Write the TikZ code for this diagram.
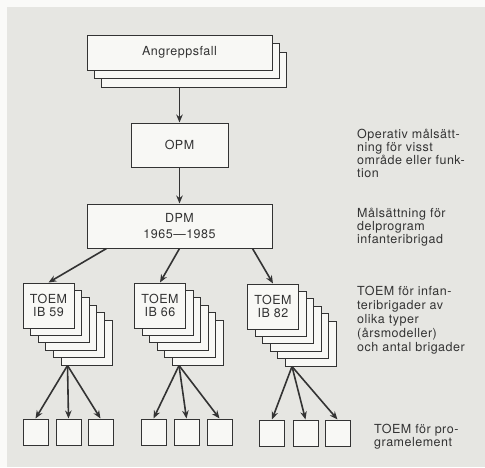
\documentclass[tikz,border=0pt]{standalone}
\usepackage{fontspec}
\setmainfont{TeX Gyre Heros}[LetterSpace=4]
\usetikzlibrary{arrows.meta}
\definecolor{panel}{HTML}{E6E6E2}
\definecolor{paper}{HTML}{FAFAF8}
\definecolor{ink}{HTML}{333333}
\definecolor{boxfill}{HTML}{F8F8F5}

\begin{document}
\begin{tikzpicture}[x=1pt,y=-1pt,
  every node/.style={font=\fontsize{12.5}{13.3}\selectfont, text=ink},
  frame/.style={draw=ink, fill=boxfill, line width=1pt, inner sep=0pt},
  sheet/.style={frame, minimum width=51pt, minimum height=45pt},
  leaf/.style={frame, minimum width=25pt, minimum height=26pt},
  link/.style={draw=ink, line width=1.6pt, -{Stealth[length=8pt,width=6.5pt]}},
  note/.style={anchor=north west, align=left, inner sep=0pt}]

% paper and grey panel
\fill[paper] (0,0) rectangle (485,467);
\fill[panel] (7,7) rectangle (485,467);
\useasboundingbox (0,0) rectangle (485,467);

% Angreppsfall: three stacked sheets
\node[frame, minimum width=185pt, minimum height=35pt] (ang2) at (193.5,69.5) {};
\node[frame, minimum width=185pt, minimum height=35pt] (ang1) at (186.5,61) {};
\node[frame, minimum width=185pt, minimum height=35pt] (ang) at (179.5,52.5) {Angreppsfall};

% OPM and DPM
\node[frame, minimum width=97pt, minimum height=44pt] (opm) at (179.5,145) {OPM};
\node[frame, minimum width=185pt, minimum height=44pt, align=center,
      font=\fontsize{12.5}{15.6}\selectfont] (dpm) at (179.5,226) {DPM\\1965—1985};

\draw[link] (opm.north |- ang2.south) -- (opm.north);
\draw[link] (opm) -- (dpm);

% TOEM stacks: five sheets behind each front sheet
\foreach \k in {5,4,...,1}
  \node[sheet] (ib59-\k) at ({48.5+7.6*\k},{305.5+7.4*\k}) {};
\node[sheet, align=center, font=\fontsize{12.5}{12.4}\selectfont] (ib59) at (48.5,305.5) {TOEM\\IB 59};

\foreach \k in {5,4,...,1}
  \node[sheet] (ib66-\k) at ({160+7.6*\k},{305.5+7.4*\k}) {};
\node[sheet, align=center, font=\fontsize{12.5}{12.4}\selectfont] (ib66) at (160,305.5) {TOEM\\IB 66};

\foreach \k in {5,4,...,1}
  \node[sheet] (ib82-\k) at ({273+7.6*\k},{306.5+7.4*\k}) {};
\node[sheet, align=center, font=\fontsize{12.5}{12.4}\selectfont] (ib82) at (273,306.5) {TOEM\\IB 82};

\draw[link] ([xshift=20pt]dpm.south west) -- (ib59.north);
\draw[link] (dpm.south) -- (ib66.north);
\draw[link] ([xshift=-20pt]dpm.south east) -- (ib82.north);

% program elements
\node[leaf] (e1) at (35.5,432) {};
\node[leaf] (e2) at (68.5,432) {};
\node[leaf] (e3) at (100.5,432) {};
\node[leaf] (e4) at (153.5,432) {};
\node[leaf] (e5) at (186.5,432) {};
\node[leaf] (e6) at (219.5,432) {};
\node[leaf] (e7) at (272,433) {};
\node[leaf] (e8) at (305.5,433) {};
\node[leaf] (e9) at (337.5,433) {};

\foreach \s/\a/\b/\c in {ib59/e1/e2/e3, ib66/e4/e5/e6, ib82/e7/e8/e9} {
  \coordinate (\s-root) at ([xshift=7pt]\s-5.south west);
  \draw[link] (\s-root) -- (\a.north);
  \draw[link] (\s-root) -- (\b.north);
  \draw[link] (\s-root) -- (\c.north);
}

% explanatory notes
\node[note] (n1) at (357,128.5) {Operativ målsätt-\\ning för visst\\område eller funk-\\tion};
\node[note] (n2) at (357,207.5) {Målsättning för\\delprogram\\infanteribrigad};
\node[note, font=\fontsize{12.5}{14}\selectfont] (n3) at (357,285.5) {TOEM för infan-\\teribrigader av\\olika typer\\(årsmodeller)\\och antal brigader};
\node[note] (n4) at (374,423.5) {TOEM för pro-\\gramelement};
\end{tikzpicture}
\end{document}
